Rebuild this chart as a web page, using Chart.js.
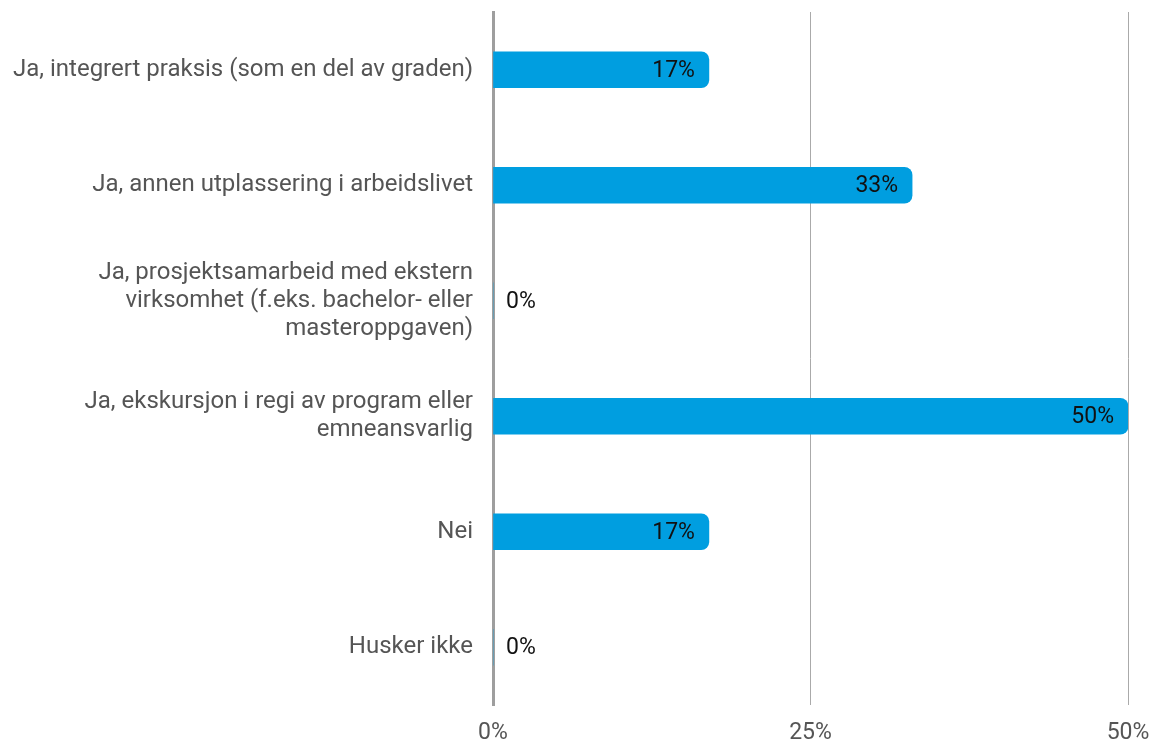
<!DOCTYPE html>
<html>
<head>
<meta charset="utf-8">
<script src="https://cdn.jsdelivr.net/npm/chart.js@4.4.1/dist/chart.umd.min.js"></script>
<style>
  html, body { margin: 0; padding: 0; background: #fff; }
  #wrap { width: 1155px; height: 741px; }
</style>
</head>
<body>
<div id="wrap"><canvas id="praksisChart"></canvas></div>
<script>
// Answers and share of respondents (percent)
var categories = [
    'Ja, integrert praksis (som en del av graden)',
    'Ja, annen utplassering i arbeidslivet',
    ['Ja, prosjektsamarbeid med ekstern', 'virksomhet (f.eks. bachelor- eller', 'masteroppgaven)'],
    ['Ja, ekskursjon i regi av program eller', 'emneansvarlig'],
    'Nei',
    'Husker ikke'
];
var shares = [17, 33, 0, 50, 17, 0];
var tickValues = [0, 25, 50];

// Value labels: inside the bar end, or just right of the axis for empty bars
var valueLabels = {
    id: 'valueLabels',
    afterDatasetsDraw: function(chart) {
        var ctx = chart.ctx;
        var meta = chart.getDatasetMeta(0);
        ctx.save();
        ctx.font = '23px Roboto';
        ctx.fillStyle = '#111';
        ctx.textBaseline = 'middle';
        meta.data.forEach(function(bar, i) {
            var v = shares[i];
            if (v > 0) {
                ctx.textAlign = 'right';
                ctx.fillText(v + '%', bar.x - 14, bar.y + 1);
            } else {
                ctx.textAlign = 'left';
                ctx.fillText(v + '%', bar.base + 13, bar.y + 1);
            }
        });
        ctx.restore();
    }
};

new Chart(document.getElementById('praksisChart'), {
    type: 'bar',
    data: {
        labels: categories,
        datasets: [{
            data: shares,
            backgroundColor: '#009ee0',
            borderRadius: 8,
            borderSkipped: 'start',
            barThickness: 36
        }]
    },
    options: {
        indexAxis: 'y',
        responsive: true,
        maintainAspectRatio: false,
        animation: false,
        layout: { padding: { top: 12, right: 27, left: 0, bottom: 0 } },
        plugins: {
            legend: { display: false },
            tooltip: { enabled: false }
        },
        scales: {
            x: {
                min: 0,
                max: 50,
                afterBuildTicks: function(scale) {
                    scale.ticks = tickValues.map(function(v) { return { value: v }; });
                },
                grid: {
                    color: function(c) { return c.tick && c.tick.value === 0 ? 'rgba(0,0,0,0)' : '#aaa'; },
                    lineWidth: 1,
                    drawTicks: false
                },
                border: { display: false },
                ticks: {
                    padding: 14,
                    color: '#555',
                    font: { family: 'Roboto', size: 23 },
                    callback: function(v) { return v + '%'; }
                },
                afterFit: function(scale) {
                    scale.height = 36;
                    scale.paddingLeft = 0;
                    scale.paddingRight = 0;
                }
            },
            y: {
                grid: { display: false, drawTicks: false },
                border: { display: true, color: '#9e9e9e', width: 3 },
                ticks: {
                    padding: 20,
                    color: '#555',
                    font: { family: 'Roboto', size: 24, lineHeight: 1.17 }
                },
                afterFit: function(scale) {
                    scale.width = 493;
                    scale.paddingTop = 0;
                    scale.paddingBottom = 0;
                }
            }
        }
    },
    plugins: [valueLabels]
});
</script>
</body>
</html>
